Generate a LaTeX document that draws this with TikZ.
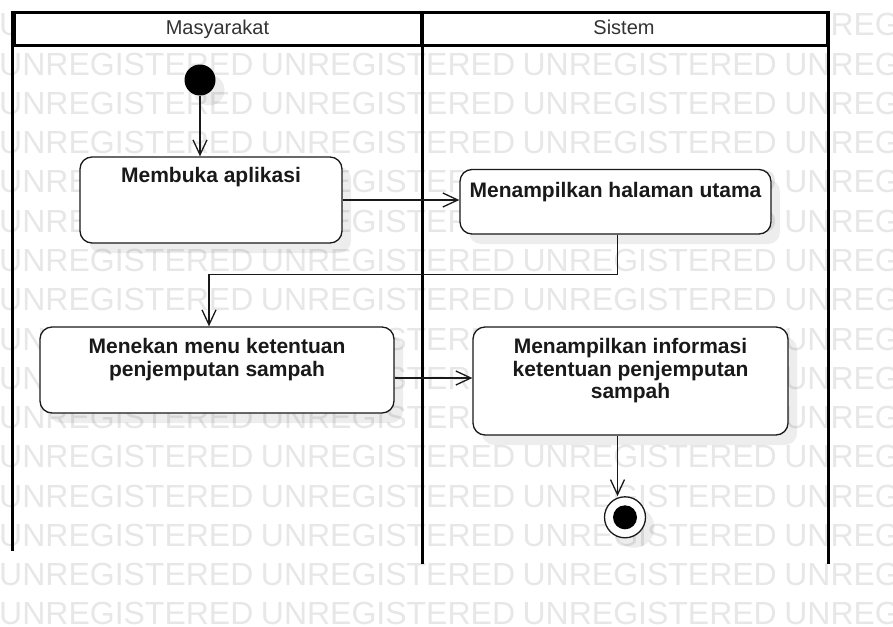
\documentclass[tikz,border=0pt]{standalone}
\usepackage{fontspec}
\setmainfont{Liberation Sans}
\usetikzlibrary{arrows.meta,shadows}

\definecolor{wmgray}{gray}{0.905}
\definecolor{inkdark}{gray}{0.1}

\tikzset{
  wmtext/.style={anchor=base west, inner sep=0pt, text=wmgray,
    font=\fontsize{32}{32}\selectfont},
  lanehead/.style={rectangle, draw=black, line width=3pt, fill=white,
    text=black!80, font=\fontsize{20}{22}\selectfont,
    text height=15pt, text depth=4pt, inner sep=0pt},
  lanerule/.style={draw=black, line width=3pt},
  softshadow/.style={drop shadow={shadow xshift=9pt, shadow yshift=-10pt,
    fill=black, opacity=0.07}},
  actbox/.style={rectangle, rounded corners=12pt, draw=inkdark,
    line width=1.3pt, fill=white, softshadow},
  acttext/.style={anchor=north, inner sep=0pt, align=center, text=inkdark,
    font=\bfseries\fontsize{21}{22.5}\selectfont},
  initstate/.style={circle, fill=black, minimum size=31pt, inner sep=0pt,
    softshadow},
  finring/.style={circle, draw=inkdark, line width=1.3pt, fill=white,
    minimum size=41pt, inner sep=0pt, softshadow},
  findot/.style={circle, fill=black, minimum size=24pt, inner sep=0pt},
  flow/.style={draw=inkdark, line width=1.3pt,
    -{Straight Barb[length=15pt,width=14pt]}},
}

\begin{document}
\begin{tikzpicture}[x=1pt,y=-1pt]
\useasboundingbox (0,0) rectangle (893,626);

% background stamp rows
\begin{scope}
  \clip (0,0) rectangle (893,626);
  \foreach \r in {0,...,15} {
    \foreach \c in {0,...,3} {
      \node[wmtext] (wm-\r-\c) at ({-1+261.7*\c},{35.9+39.27*\r}) {UNREGISTERED};
    }
  }
\end{scope}

% swimlanes
\node[lanehead, minimum width=407pt, minimum height=33pt] (laneA) at (217.5,29.5) {Masyarakat};
\node[lanehead, minimum width=406pt, minimum height=33pt] (laneB) at (624,29.5) {Sistem};
\draw[lanerule] (laneA.north west) -- ++(0,539);
\draw[lanerule] (laneA.north east) -- ++(0,552);
\draw[lanerule] (laneB.north east) -- ++(0,552);

% states
\node[initstate] (start) at (200,80) {};

\node[actbox, minimum width=262pt, minimum height=86pt] (m1) at (211,200) {};
\node[acttext] (t1) at ([yshift=-11pt]m1.north) {Membuka aplikasi};

\node[actbox, minimum width=311pt, minimum height=64.5pt] (m2) at (615.5,201.75) {};
\node[acttext] (t2) at ([yshift=-13.5pt]m2.north) {Menampilkan halaman utama};

\node[actbox, minimum width=354pt, minimum height=86pt] (m3) at (217,370) {};
\node[acttext] (t3) at ([yshift=-12pt]m3.north) {Menekan menu ketentuan\\penjemputan sampah};

\node[actbox, minimum width=315pt, minimum height=108pt] (m4) at (630.5,381) {};
\node[acttext] (t4) at ([yshift=-12pt]m4.north) {Menampilkan informasi\\ketentuan penjemputan\\sampah};

\node[finring] (fin) at (625,517.3) {};
\node[findot] (finDot) at (fin.center) {};

% transitions
\draw[flow] (start) -- (start |- m1.north);
\draw[flow] (m1.east) -- (m1.east -| m2.west);
\coordinate (m2out) at ([xshift=2pt]m2.south);
\coordinate (m3in) at ([xshift=-8pt]m3.north);
\draw[flow] (m2out) -- ++(0,40) -| (m3in);
\coordinate (m3out) at ([yshift=-8pt]m3.east);
\draw[flow] (m3out) -- (m3out -| m4.west);
\coordinate (m4out) at ([xshift=-13pt]m4.south);
\draw[flow] (m4out) -- (m4out |- fin.north);
\end{tikzpicture}
\end{document}
